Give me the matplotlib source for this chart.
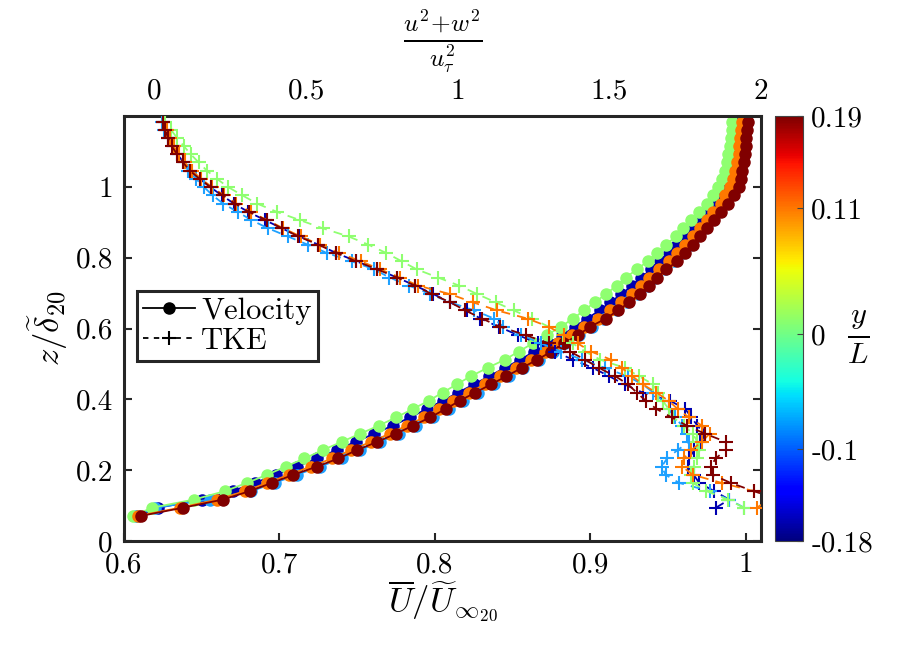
import matplotlib
matplotlib.use('Agg')
import matplotlib.pyplot as plt
from matplotlib.lines import Line2D
from matplotlib import cm, colors

plt.rcParams['font.family'] = 'serif'
plt.rcParams['font.serif'] = ['cmr10']
plt.rcParams['mathtext.fontset'] = 'cm'
plt.rcParams['axes.unicode_minus'] = False

# spanwise stations y/L and the colour used for each one
y_over_L = [-0.18, -0.1, 0, 0.11, 0.19]
y_labels = ['-0.18', '-0.1', '0', '0.11', '0.19']
line_colors = [(0.0, 0.0, 0.69), (0.12, 0.63, 1.0), (0.56, 1.0, 0.44),
               (1.0, 0.47, 0.0), (0.5, 0.0, 0.0)]

# wall-normal positions z/delta_20 of the velocity samples
z_vel = [0.071, 0.094, 0.117, 0.141, 0.164, 0.187, 0.210, 0.233, 0.257, 0.280,
         0.303, 0.326, 0.349, 0.373, 0.396, 0.419, 0.442, 0.465, 0.489, 0.512,
         0.535, 0.558, 0.581, 0.605, 0.628, 0.651, 0.674, 0.697, 0.721, 0.744,
         0.767, 0.790, 0.813, 0.837, 0.860, 0.883, 0.906, 0.929, 0.953, 0.976,
         0.999, 1.022, 1.045, 1.069, 1.092, 1.115, 1.138, 1.161, 1.184]

# mean streamwise velocity U / U_inf
U_m018 = [0.609, 0.622, 0.650, 0.670, 0.684, 0.698, 0.711, 0.724, 0.737, 0.749,
          0.761, 0.773, 0.784, 0.795, 0.805, 0.815, 0.825, 0.835, 0.845, 0.855,
          0.864, 0.873, 0.882, 0.890, 0.898, 0.906, 0.913, 0.920, 0.927, 0.933,
          0.939, 0.945, 0.951, 0.956, 0.961, 0.966, 0.971, 0.975, 0.979, 0.983,
          0.986, 0.989, 0.991, 0.993, 0.994, 0.995, 0.996, 0.9965, 0.997]
U_m010 = [0.608, 0.620, 0.655, 0.682, 0.697, 0.711, 0.726, 0.740, 0.752, 0.765,
          0.777, 0.788, 0.799, 0.809, 0.818, 0.828, 0.838, 0.848, 0.857, 0.867,
          0.876, 0.884, 0.893, 0.901, 0.909, 0.917, 0.924, 0.931, 0.937, 0.942,
          0.948, 0.954, 0.959, 0.964, 0.969, 0.9735, 0.978, 0.982, 0.986, 0.9895,
          0.992, 0.994, 0.9955, 0.9965, 0.9975, 0.998, 0.9985, 0.999, 0.999]
U_000 = [0.606, 0.618, 0.645, 0.665, 0.679, 0.692, 0.704, 0.716, 0.728, 0.740,
         0.752, 0.764, 0.775, 0.786, 0.796, 0.805, 0.814, 0.823, 0.834, 0.845,
         0.854, 0.863, 0.872, 0.881, 0.889, 0.896, 0.903, 0.910, 0.917, 0.923,
         0.930, 0.937, 0.943, 0.949, 0.955, 0.960, 0.965, 0.970, 0.975, 0.979,
         0.982, 0.985, 0.987, 0.988, 0.989, 0.990, 0.9905, 0.991, 0.9915]
U_011 = [0.609, 0.636, 0.660, 0.678, 0.692, 0.706, 0.720, 0.734, 0.746, 0.759,
         0.771, 0.782, 0.793, 0.803, 0.812, 0.822, 0.832, 0.842, 0.852, 0.862,
         0.871, 0.879, 0.888, 0.896, 0.905, 0.913, 0.920, 0.927, 0.933, 0.938,
         0.944, 0.951, 0.956, 0.961, 0.966, 0.971, 0.975, 0.979, 0.984, 0.987,
         0.990, 0.992, 0.9935, 0.9945, 0.9955, 0.996, 0.9965, 0.997, 0.9975]
U_019 = [0.611, 0.638, 0.6635, 0.681, 0.695, 0.709, 0.724, 0.738, 0.750, 0.763,
         0.775, 0.786, 0.797, 0.807, 0.816, 0.826, 0.836, 0.846, 0.856, 0.866,
         0.875, 0.883, 0.892, 0.900, 0.910, 0.918, 0.925, 0.932, 0.938, 0.943,
         0.949, 0.956, 0.961, 0.966, 0.971, 0.9755, 0.980, 0.984, 0.989, 0.9925,
         0.9955, 0.997, 0.998, 0.999, 0.9995, 1.000, 1.0005, 1.001, 1.0013]

# wall-normal positions of the TKE samples
z_tke = [0.094, 0.117, 0.141, 0.164, 0.187, 0.210, 0.233, 0.257, 0.280,
         0.303, 0.326, 0.349, 0.373, 0.396, 0.419, 0.442, 0.465, 0.489, 0.512,
         0.535, 0.558, 0.581, 0.605, 0.628, 0.651, 0.674, 0.697, 0.721, 0.744,
         0.767, 0.790, 0.813, 0.837, 0.860, 0.883, 0.906, 0.929, 0.953, 0.976,
         0.999, 1.022, 1.045, 1.069, 1.092, 1.115, 1.138, 1.161, 1.184]

# (u'^2 + w'^2) / u_tau^2
tke_m018 = [1.851, 1.895, 1.845, 1.796, 1.778, 1.760, 1.762, 1.780, 1.800,
            1.812, 1.790, 1.770, 1.750, 1.700, 1.610, 1.550, 1.500, 1.445, 1.380,
            1.320, 1.265, 1.200, 1.135, 1.075, 1.030, 0.975, 0.920, 0.860, 0.800,
            0.735, 0.665, 0.600, 0.540, 0.478, 0.420, 0.365, 0.310, 0.262, 0.222,
            0.185, 0.150, 0.120, 0.096, 0.076, 0.060, 0.046, 0.037, 0.030]
tke_m010 = [1.944, 1.895, 1.830, 1.730, 1.685, 1.672, 1.690, 1.725, 1.763,
            1.757, 1.740, 1.715, 1.695, 1.675, 1.645, 1.610, 1.560, 1.485, 1.410,
            1.340, 1.275, 1.210, 1.150, 1.120, 1.055, 0.975, 0.910, 0.840, 0.775,
            0.725, 0.650, 0.570, 0.505, 0.440, 0.375, 0.320, 0.275, 0.226, 0.192,
            0.164, 0.138, 0.112, 0.095, 0.078, 0.063, 0.046, 0.033, 0.025]
tke_000 = [1.944, 1.890, 1.820, 1.775, 1.768, 1.778, 1.790, 1.795, 1.790,
           1.775, 1.745, 1.710, 1.695, 1.676, 1.660, 1.645, 1.598, 1.550, 1.470,
           1.420, 1.379, 1.346, 1.300, 1.245, 1.185, 1.125, 1.065, 1.005, 0.935,
           0.865, 0.815, 0.765, 0.705, 0.640, 0.555, 0.480, 0.405, 0.338, 0.290,
           0.244, 0.207, 0.174, 0.146, 0.120, 0.097, 0.075, 0.055, 0.035]
tke_011 = [1.985, 2.030, 1.975, 1.870, 1.775, 1.740, 1.745, 1.770, 1.805,
           1.830, 1.805, 1.762, 1.725, 1.695, 1.655, 1.610, 1.576, 1.540, 1.505,
           1.440, 1.395, 1.350, 1.300, 1.230, 1.130, 1.050, 0.975, 0.870, 0.810,
           0.745, 0.680, 0.610, 0.545, 0.482, 0.425, 0.372, 0.318, 0.270, 0.230,
           0.190, 0.155, 0.125, 0.100, 0.080, 0.063, 0.050, 0.040, 0.030]
tke_019 = [2.150, 2.060, 1.975, 1.900, 1.840, 1.834, 1.850, 1.884, 1.884,
           1.815, 1.755, 1.705, 1.655, 1.620, 1.590, 1.562, 1.520, 1.465, 1.420,
           1.370, 1.300, 1.225, 1.140, 1.080, 1.025, 0.975, 0.915, 0.860, 0.800,
           0.735, 0.665, 0.600, 0.540, 0.475, 0.420, 0.370, 0.312, 0.266, 0.225,
           0.186, 0.150, 0.118, 0.094, 0.075, 0.057, 0.045, 0.036, 0.030]

U_profiles = [U_m018, U_m010, U_000, U_011, U_019]
tke_profiles = [tke_m018, tke_m010, tke_000, tke_011, tke_019]

x_ticks = [0.6, 0.7, 0.8, 0.9, 1.0]
x_ticklabels = ['0.6', '0.7', '0.8', '0.9', '1']
y_ticks = [0, 0.2, 0.4, 0.6, 0.8, 1.0]
y_ticklabels = ['0', '0.2', '0.4', '0.6', '0.8', '1']
top_ticks = [0, 0.5, 1, 1.5, 2]
top_ticklabels = ['0', '0.5', '1', '1.5', '2']

fs = 21
edge = '#262626'

fig = plt.figure(figsize=(8.99, 6.49), dpi=100)
ax = fig.add_axes([0.138, 0.1664, 0.7086, 0.6548])

for U, c in zip(U_profiles, line_colors):
    ax.plot(U, z_vel, '-', color=c, lw=1.3, marker='o', ms=8, mfc=c, mec=c)

ax.set_xlim(0.6, 1.01)
ax.set_ylim(0, 1.2)
ax.set_xticks(x_ticks)
ax.set_xticklabels(x_ticklabels)
ax.set_yticks(y_ticks)
ax.set_yticklabels(y_ticklabels)
ax.tick_params(direction='in', top=True, right=True, length=6, width=1.5,
               labelsize=fs, pad=8, color=edge)
for s in ax.spines.values():
    s.set_linewidth(2.2)
    s.set_color(edge)
ax.set_xlabel(r'$\overline{U}/\widetilde{U}_{\infty_{20}}$', fontsize=25, labelpad=0)
ax.set_ylabel(r'$z/\widetilde{\delta}_{20}$', fontsize=25, labelpad=4)

# second x-axis on top for the TKE profiles
ax2 = ax.twiny()
for t, c in zip(tke_profiles, line_colors):
    ax2.plot(t, z_tke, '--', color=c, lw=1.3, dashes=(5, 4),
             marker='+', ms=10, mew=1.5)
ax2.set_xlim(-0.1, 2.0)
ax2.set_xticks(top_ticks)
ax2.set_xticklabels(top_ticklabels)
ax2.tick_params(axis='x', length=0, labelsize=fs, pad=8)
for s in ax2.spines.values():
    s.set_visible(False)
ax2.set_xlabel(r'$\frac{u^2\!+\!w^2}{u_\tau^2}$', fontsize=26, labelpad=22)

handles = [Line2D([], [], color='k', ls='-', lw=1.3, marker='o', ms=8),
           Line2D([], [], color='k', ls='--', lw=1.3, dashes=(3, 3), marker='+', ms=10, mew=1.5)]
leg = ax2.legend(handles, ['Velocity', 'TKE'], loc='upper left',
                 bbox_to_anchor=(0.02, 0.588), borderaxespad=0, fontsize=fs + 1,
                 fancybox=False, framealpha=1, handlelength=1.7,
                 handletextpad=0.2, borderpad=0.2, labelspacing=0.1)
leg.get_frame().set_edgecolor(edge)
leg.get_frame().set_linewidth(2.2)

# colour bar for the spanwise position
cax = fig.add_axes([775 / 899, 0.1664, 28 / 899, 0.6548])
sm = cm.ScalarMappable(norm=colors.Normalize(vmin=min(y_over_L), vmax=max(y_over_L)),
                       cmap='jet')
cb = fig.colorbar(sm, cax=cax)
cb.set_ticks(y_over_L)
cb.set_ticklabels(y_labels)
cb.ax.tick_params(direction='in', length=4, width=0.8, labelsize=fs, pad=6, color='#444444')
cb.outline.set_linewidth(0.8)
cb.outline.set_edgecolor('#444444')
fig.text(858 / 899, 1 - 337 / 649, r'$\frac{y}{L}$', fontsize=31,
         ha='center', va='center')

fig.savefig('out.png', dpi=100)
